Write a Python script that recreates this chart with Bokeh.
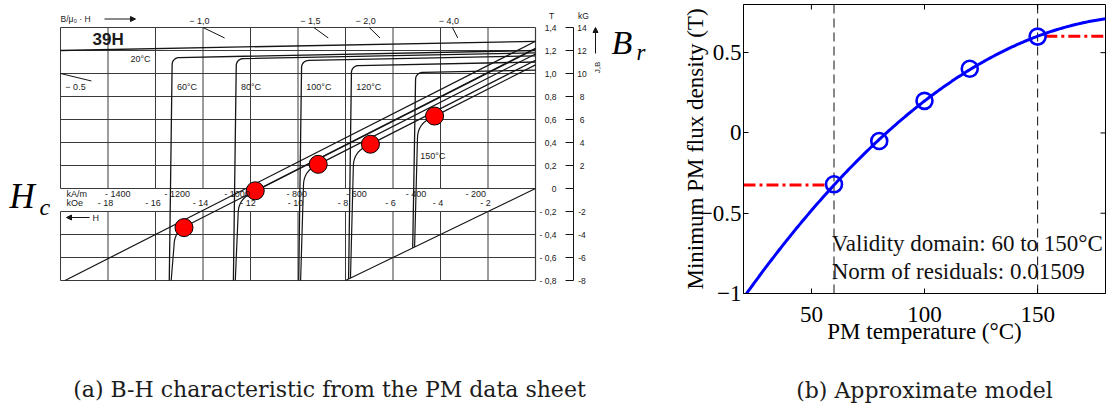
import math
import numpy as np
from bokeh.plotting import figure
from bokeh.layouts import row
from bokeh.models import (Range1d, LinearAxis, FixedTicker, CustomJSTickFormatter,
                          Label, Span, Arrow, NormalHead)
from bokeh.core.properties import value
from bokeh.embed import file_html
from bokeh.resources import INLINE

# ---------------- data: right panel (approximate model) ----------------
temp_c = [60, 80, 100, 120, 150]
flux_min = [-0.32, -0.05, 0.20, 0.40, 0.60]
valid_lo, valid_hi = 60, 150
x_ticks = [50, 100, 150]
y_ticks = [-1, -0.5, 0, 0.5]
note_validity = "Validity domain: 60 to 150°C"
note_residual = "Norm of residuals: 0.01509"
x_title = "PM temperature (°C)"
y_title = "Minimum PM flux density (T)"
caption_b = "(b) Approximate model"

# ---------------- data: left panel (data sheet, 39H) ----------------
sheet_temps = [20, 60, 80, 100, 120, 150]
sheet_temp_labels = ["20°C", "60°C", "80°C", "100°C", "120°C", "150°C"]
br_t = [1.28, 1.22, 1.215, 1.17, 1.115, 1.075]      # B at H=0 (T)
jr_t = [1.28, 1.20, 1.18, 1.153, 1.10, 1.03]        # J at H=0 (T)
hcj_koe = [None, -15.3, -12.6, -9.85, -7.75, -5.05]  # knee field (kOe)
dot_h_koe = [-14.8, -11.8, -9.15, -6.95, -4.25]
dot_b_t = [-0.34, -0.02, 0.21, 0.385, 0.63]
h_koe_ticks = [-18, -16, -14, -12, -10, -8, -6, -4, -2]
h_kam_ticks = [-1400, -1200, -1000, -800, -600, -400, -200]
b_t_ticks = [1.4, 1.2, 1.0, 0.8, 0.6, 0.4, 0.2, 0.0, -0.2, -0.4, -0.6, -0.8]
b_t_labels = ["1,4", "1,2", "1,0", "0,8", "0,6", "0,4", "0,2", "0",
              "- 0,2", "- 0,4", "- 0,6", "- 0,8"]
b_kg_labels = ["14", "12", "10", "8", "6", "4", "2", "", "-2", "-4", "-6", "-8"]
permeance = [0.5, 1.0, 1.5, 2.0, 4.0]
permeance_labels = ["\u2212 0.5", "\u2212 1,0", "\u2212 1,5", "\u2212 2,0", "\u2212 4,0"]
caption_a = "(a) B-H characteristic from the PM data sheet"

H_MIN, B_MIN, B_MAX = -20.0, -0.8, 1.4
MU0 = 0.1          # T per kOe
RECOIL = 0.105     # T per kOe
J_SLOPE = 0.004
KA_PER_KOE = 79.5775

# ---------------- page geometry ----------------
FH = 405
TOP, BOTTOM = 4, 112            # frame borders shared by both figures
LW = 658
RW = 450
R_LEFT, R_RIGHT = 85, 3

KX, KY = 23.75, 115.0
X0_PX, Y0_PX = 535.0, 188.0     # page px of (H=0, B=0)

def ph(px):  # page x -> kOe
    return (px - X0_PX) / KX

def pb(py):  # page y -> T
    return (Y0_PX - py) / KY

# ---------------- left figure ----------------
p1 = figure(width=LW, height=FH,
            x_range=Range1d(ph(0), ph(LW)),
            y_range=Range1d(pb(FH - BOTTOM), pb(TOP)),
            x_axis_type=None, y_axis_type=None,
            min_border_left=0, min_border_right=0,
            min_border_top=TOP, min_border_bottom=BOTTOM,
            output_backend="svg", toolbar_location=None)
p1.outline_line_color = None

GRID = "#3a3a3a"
INK = "#151515"

vx = [H_MIN] + h_koe_ticks
p1.segment(x0=vx, y0=[0.0] * len(vx), x1=vx, y1=[B_MAX] * len(vx), line_color=GRID, line_width=1)
p1.segment(x0=vx, y0=[B_MIN] * len(vx), x1=vx, y1=[-0.2] * len(vx), line_color=GRID, line_width=1)
p1.segment(x0=[0.0], y0=[B_MIN], x1=[0.0], y1=[B_MAX], line_color=GRID, line_width=1.2)
hb = list(b_t_ticks)
p1.segment(x0=[H_MIN] * len(hb), y0=hb, x1=[0.0] * len(hb), y1=hb, line_color=GRID, line_width=1)

def j_curve(jr, hk):
    if hk is None:
        return [H_MIN, 0.0], [jr + J_SLOPE * H_MIN, jr]
    jk = jr + J_SLOPE * hk
    rh, rv = 0.3, 0.06
    t = np.linspace(0, math.pi / 2, 9)
    ax = list(hk + rh - rh * np.sin(t))
    ay = list(jk - rv + rv * np.cos(t))
    hend = hk - 0.12
    return [0.0] + ax + [hend], [jr] + ay + [max(B_MIN, MU0 * hend)]

def b_curve(br, hk):
    if hk is None:
        hend = max(H_MIN, (B_MIN - br) / RECOIL)
        return [0.0, hend], [br, br + RECOIL * hend]
    hv = hk + 0.08
    h0 = hv + 0.5
    P0 = np.array([h0, br + RECOIL * h0])
    P1 = np.array([hv, br + RECOIL * hv])
    P2 = np.array([hv, br + RECOIL * hv - 0.12])
    t = np.linspace(0, 1, 10)[:, None]
    bz = (1 - t) ** 2 * P0 + 2 * (1 - t) * t * P1 + t ** 2 * P2
    hend = hv - 0.12
    return [0.0] + list(bz[:, 0]) + [hend], [br] + list(bz[:, 1]) + [max(B_MIN, MU0 * hend)]

jx, jy, bx, by = [], [], [], []
for jr, br, hk in zip(jr_t, br_t, hcj_koe):
    a, b = j_curve(jr, hk)
    jx.append(a); jy.append(b)
    a, b = b_curve(br, hk)
    bx.append(a); by.append(b)

p1.quad(left=[H_MIN - 0.05], right=[-0.45], bottom=[-0.186], top=[-0.012],
        fill_color="white", line_color=None)

p1.multi_line(xs=jx, ys=jy, line_color=INK, line_width=1.3)
p1.multi_line(xs=bx, ys=by, line_color=INK, line_width=1.2)
p1.line(x=[0.0, B_MIN / MU0], y=[0.0, B_MIN], line_color=INK, line_width=1.1)

sx0, sy0, sx1, sy1 = [], [], [], []
for pc in permeance:
    h_edge = max(H_MIN, -B_MAX / (MU0 * pc))
    b_edge = -MU0 * pc * h_edge
    sx0.append(h_edge); sy0.append(b_edge)
    sx1.append(0.935 * h_edge); sy1.append(0.935 * b_edge)
p1.segment(x0=sx0, y0=sy0, x1=sx1, y1=sy1, line_color=INK, line_width=1)

p1.scatter(x=dot_h_koe, y=dot_b_t, marker="circle", size=18,
           fill_color="#ff0000", line_color="black", line_width=1)

SANS = value("Liberation Sans")
SERIF = value("Liberation Serif")

def stext(xs, ys, ts, size="9px", align="center", baseline="middle", font=SANS,
          style="normal", color="#1a1a1a", angle=0.0):
    p1.text(x=xs, y=ys, text=ts, text_font=font, text_font_size=value(size),
            text_align=align, text_baseline=baseline, text_color=color,
            text_font_style=style, angle=angle)

plx, ply = [], []
for pc, h0_ in zip(permeance, sx0):
    if pc < 1:
        plx.append(ph(75)); ply.append(pb(86))
    else:
        plx.append(h0_ - 0.15); ply.append(pb(20))
stext(plx, ply, permeance_labels, size="9px")
stext([ph(60)], [pb(18)], ["B/\u03bc\u2080 \u00b7 H"], size="8.5px", align="left")
p1.add_layout(Arrow(end=NormalHead(size=5, fill_color=INK, line_color=INK),
                    x_start=ph(104), y_start=pb(18.5), x_end=ph(135), y_end=pb(18.5),
                    line_color=INK, line_width=1))
stext([ph(92)], [pb(38.5)], ["39H"], size="17px", align="left", style="bold")

tlx = [ph(130)] + [hk + 0.2 for hk in hcj_koe[1:]]
tly = [pb(58), pb(86), pb(86), pb(86), pb(86), pb(155)]
stext(tlx, tly, sheet_temp_labels, size="9px", align="left")

stext([v / KA_PER_KOE for v in h_kam_ticks], [pb(193)] * len(h_kam_ticks),
      ["- %d" % abs(v) for v in h_kam_ticks], size="9px")
stext([v - 0.1 for v in h_koe_ticks], [pb(202)] * len(h_koe_ticks),
      ["- %d" % abs(v) for v in h_koe_ticks], size="9px")
stext([ph(66)], [pb(193)], ["kA/m"], size="9px", align="left")
stext([ph(66)], [pb(202)], ["kOe"], size="9px", align="left")
p1.add_layout(Arrow(end=NormalHead(size=5, fill_color=INK, line_color=INK),
                    x_start=ph(89), y_start=pb(217), x_end=ph(66), y_end=pb(217),
                    line_color=INK, line_width=1))
stext([ph(92)], [pb(217)], ["H"], size="9px", align="left")

AX_H = ph(573)
p1.segment(x0=[AX_H], y0=[B_MIN], x1=[AX_H], y1=[B_MAX], line_color=INK, line_width=1)
p1.segment(x0=[ph(565)] * len(b_t_ticks), y0=b_t_ticks, x1=[AX_H] * len(b_t_ticks),
           y1=b_t_ticks, line_color=INK, line_width=1)
stext([ph(556)] * len(b_t_ticks), b_t_ticks, b_t_labels, size="8.5px", align="right")
stext([ph(581.5)] * len(b_t_ticks), b_t_ticks, b_kg_labels, size="8.5px")
stext([ph(551)], [pb(15)], ["T"], size="8.5px")
stext([ph(583)], [pb(15)], ["kG"], size="8.5px")
p1.add_layout(Arrow(end=NormalHead(size=5, fill_color=INK, line_color=INK),
                    x_start=ph(595), y_start=pb(53), x_end=ph(595), y_end=pb(27),
                    line_color=INK, line_width=1))
stext([ph(597)], [pb(67)], ["J,B"], size="8px", angle=math.pi / 2)

# LaTeX-like symbols (vertically centred on the glyphs)
stext([ph(611)], [pb(42)], ["B"], size="34px", align="left",
      font=SERIF, style="italic", color="black")
stext([ph(636)], [pb(51.5)], ["r"], size="23px", align="left",
      font=SERIF, style="italic", color="black")
stext([ph(9)], [pb(196)], ["H"], size="35px", align="left",
      font=SERIF, style="italic", color="black")
stext([ph(39)], [pb(206.5)], ["c"], size="24px", align="left",
      font=SERIF, style="italic", color="black")

def caption_axis(text, standoff):
    ax = LinearAxis(ticker=FixedTicker(ticks=[]), axis_label=text)
    ax.axis_line_color = None
    ax.major_tick_line_color = None
    ax.minor_tick_line_color = None
    ax.major_tick_in = 0
    ax.major_tick_out = 0
    ax.major_label_standoff = 0
    ax.axis_label_standoff = standoff
    ax.axis_label_text_font = "DejaVu Serif"
    ax.axis_label_text_font_size = "22px"
    ax.axis_label_text_font_style = "normal"
    ax.axis_label_text_color = "#1c1c1c"
    return ax

p1.add_layout(caption_axis(caption_a, 83), "below")

# ---------------- right figure ----------------
p2 = figure(width=RW, height=FH, x_range=Range1d(20, 180), y_range=Range1d(-1, 0.8),
            x_axis_type=None, y_axis_type=None, output_backend="svg", toolbar_location=None,
            min_border_left=R_LEFT, min_border_right=R_RIGHT,
            min_border_top=TOP, min_border_bottom=BOTTOM)
p2.outline_line_color = "black"
p2.outline_line_width = 1

fmt = CustomJSTickFormatter(code="return tick < 0 ? '\\u2212' + (-tick) : '' + tick;")

def style_axis(ax):
    ax.major_tick_in = 5
    ax.major_tick_out = 0
    ax.minor_tick_line_color = None
    ax.axis_line_color = "black"
    ax.major_tick_line_color = "black"
    ax.major_label_text_font = "Liberation Serif"
    ax.major_label_text_color = "black"
    ax.major_label_text_font_size = "23px"
    ax.axis_label_text_font = "Liberation Serif"
    ax.axis_label_text_font_size = "23px"
    ax.axis_label_text_font_style = "normal"
    ax.axis_label_text_color = "black"

xb = LinearAxis(ticker=FixedTicker(ticks=x_ticks), formatter=fmt, axis_label=x_title)
style_axis(xb)
xb.major_label_standoff = 13
xb.axis_label_standoff = -6
yl = LinearAxis(ticker=FixedTicker(ticks=y_ticks), formatter=fmt, axis_label=y_title)
style_axis(yl)
yl.major_label_standoff = 2
yl.axis_label_standoff = -11
p2.add_layout(xb, "below")
p2.add_layout(caption_axis(caption_b, 31), "below")
p2.add_layout(yl, "left")

# mirrored inward ticks on the top and right edges
fw = RW - R_LEFT - R_RIGHT
fhh = FH - TOP - BOTTOM
tick_dx = 5.0 * (180 - 20) / fw
tick_dy = 5.0 * (0.8 - (-1)) / fhh
p2.segment(x0=x_ticks, y0=[0.8] * len(x_ticks), x1=x_ticks, y1=[0.8 - tick_dy] * len(x_ticks),
           line_color="black", line_width=1)
p2.segment(x0=[180] * len(y_ticks), y0=y_ticks, x1=[180 - tick_dx] * len(y_ticks), y1=y_ticks,
           line_color="black", line_width=1)

for loc in (valid_lo, valid_hi):
    p2.add_layout(Span(location=loc, dimension="height", line_color="#111111",
                       line_width=1, line_dash="9 5", level="underlay"))

coef = np.polyfit(temp_c, flux_min, 2)
tx = np.linspace(20, 180, 241)
f_lo = float(np.polyval(coef, valid_lo))
f_hi = float(np.polyval(coef, valid_hi))
r_pad = 3.4
p2.line(x=[20, valid_lo - r_pad], y=[f_lo, f_lo], line_color="#ff0000", line_width=3,
        line_dash="12 4 3 4")
p2.line(x=[valid_hi + r_pad, 180], y=[f_hi, f_hi], line_color="#ff0000", line_width=3,
        line_dash="12 4 3 4")
p2.line(x=tx, y=np.polyval(coef, tx), line_color="#0000ff", line_width=3)
p2.scatter(x=temp_c, y=flux_min, marker="circle", size=16, fill_color=None,
           line_color="#0000ff", line_width=2.6)

for txt, yv in ((note_validity, -0.69), (note_residual, -0.865)):
    p2.add_layout(Label(x=59, y=yv, text=txt, text_font="Liberation Serif",
                        text_font_size="23px", text_baseline="middle", text_align="left",
                        text_color="#111111"))

layout = row(p1, p2)
open("out.html", "w").write(file_html(layout, INLINE))
